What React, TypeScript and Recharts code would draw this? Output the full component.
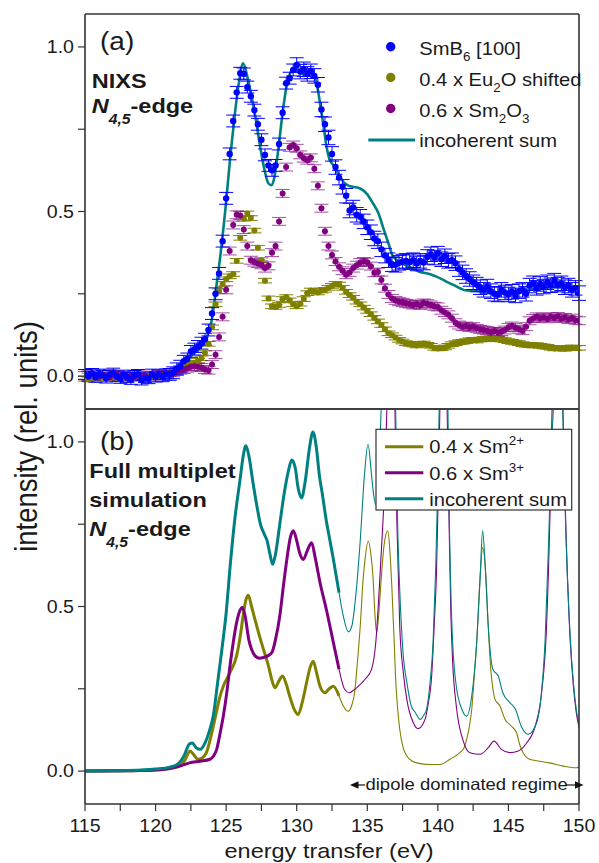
import React from 'react';
import { ComposedChart, Line, Scatter, XAxis, YAxis, ErrorBar } from 'recharts';

const FONT = '"Liberation Sans", Arial, Helvetica, sans-serif';
const C_BLUE = '#0000ff';
const C_OLIVE = '#808000';
const C_PURPLE = '#800080';
const C_TEAL = '#008080';
const AXIS = '#333333';
const TXT = '#1a1a1a';
const SX = 1.12;

const X_TICKS = [115, 117.5, 120, 122.5, 125, 127.5, 130, 132.5, 135, 137.5, 140, 142.5, 145, 147.5, 150];
const X_LABELS = [115, 120, 125, 130, 135, 140, 145, 150];
const Y_TICKS = [0, 0.25, 0.5, 0.75, 1];
const Y_LABELS = [0, 0.5, 1];

// ---------- (a) NIXS measurement ----------
const TOP_ENERGY = [
  115, 115.25, 115.5, 115.75, 116, 116.25, 116.5, 116.75, 117, 117.25, 117.5, 117.75,
  118, 118.25, 118.5, 118.75, 119, 119.25, 119.5, 119.75, 120, 120.25, 120.5, 120.75,
  121, 121.25, 121.5, 121.75, 122, 122.25, 122.5, 122.75, 123, 123.25, 123.5, 123.75,
  124, 124.25, 124.5, 124.75, 125, 125.25, 125.5, 125.75, 126, 126.25, 126.5, 126.75,
  127, 127.25, 127.5, 127.75, 128, 128.25, 128.5, 128.75, 129, 129.25, 129.5, 129.75,
  130, 130.25, 130.5, 130.75, 131, 131.25, 131.5, 131.75, 132, 132.25, 132.5, 132.75,
  133, 133.25, 133.5, 133.75, 134, 134.25, 134.5, 134.75, 135, 135.25, 135.5, 135.75,
  136, 136.25, 136.5, 136.75, 137, 137.25, 137.5, 137.75, 138, 138.25, 138.5, 138.75,
  139, 139.25, 139.5, 139.75, 140, 140.25, 140.5, 140.75, 141, 141.25, 141.5, 141.75,
  142, 142.25, 142.5, 142.75, 143, 143.25, 143.5, 143.75, 144, 144.25, 144.5, 144.75,
  145, 145.25, 145.5, 145.75, 146, 146.25, 146.5, 146.75, 147, 147.25, 147.5, 147.75,
  148, 148.25, 148.5, 148.75, 149, 149.25, 149.5, 149.75, 150,
];

const SMB6 = [
  0.005, 0.0, 0.008, -0.004, 0.006, 0.002, -0.006, 0.004, 0.009, -0.002, -0.007, 0.003,
  -0.004, -0.01, 0.002, 0.005, -0.012, -0.005, -0.008, 0.006, -0.003, 0.004, -0.002, 0.007,
  0.005, 0.01, 0.022, 0.03, 0.045, 0.052, 0.075, 0.082, 0.09, 0.1, 0.112, 0.14,
  0.19, 0.25, 0.312, 0.41, 0.54, 0.675, 0.775, 0.862, 0.92, 0.918, 0.878, 0.85,
  0.808, 0.765, 0.718, 0.672, 0.64, 0.625, 0.64, 0.705, 0.8, 0.89, 0.905, 0.93,
  0.945, 0.925, 0.932, 0.918, 0.926, 0.912, 0.885, 0.81, 0.765, 0.725, 0.675, 0.635,
  0.603, 0.575, 0.548, 0.503, 0.512, 0.49, 0.484, 0.47, 0.452, 0.437, 0.418, 0.41,
  0.385, 0.366, 0.352, 0.34, 0.338, 0.344, 0.348, 0.35, 0.346, 0.352, 0.342, 0.35,
  0.345, 0.362, 0.37, 0.36, 0.372, 0.355, 0.364, 0.35, 0.352, 0.343, 0.325, 0.315,
  0.304, 0.295, 0.285, 0.278, 0.27, 0.262, 0.272, 0.258, 0.25, 0.248, 0.262, 0.254,
  0.248, 0.256, 0.245, 0.258, 0.262, 0.25, 0.275, 0.282, 0.268, 0.28, 0.272, 0.285,
  0.276, 0.29, 0.278, 0.282, 0.27, 0.275, 0.262, 0.268, 0.252,
];

const EU2O = [
  -0.008, -0.01, -0.006, -0.009, -0.004, -0.007, -0.005, -0.008, -0.003, -0.006, -0.002, -0.004,
  -0.005, -0.002, -0.004, 0.0, -0.003, -0.001, 0.001, -0.002, 0.002, 0.0, 0.003, 0.004,
  0.006, 0.01, 0.016, 0.024, 0.03, 0.034, 0.036, 0.04, 0.046, 0.054, 0.07, 0.098,
  0.148, 0.218, 0.258, 0.28, 0.294, 0.303, 0.31, 0.35, 0.42, 0.478, 0.494, 0.48,
  0.442, 0.39, 0.352, 0.29, 0.236, 0.212, 0.21, 0.216, 0.234, 0.24, 0.23, 0.218,
  0.212, 0.22, 0.234, 0.252, 0.26, 0.258, 0.254, 0.26, 0.262, 0.268, 0.274, 0.28,
  0.278, 0.268, 0.256, 0.246, 0.238, 0.226, 0.218, 0.208, 0.198, 0.188, 0.177, 0.166,
  0.155, 0.142, 0.13, 0.124, 0.117, 0.11, 0.105, 0.1, 0.098, 0.096, 0.093, 0.097,
  0.099, 0.095, 0.092, 0.086, 0.084, 0.085, 0.087, 0.092, 0.097, 0.1, 0.103, 0.104,
  0.106, 0.109, 0.11, 0.108, 0.111, 0.113, 0.114, 0.112, 0.115, 0.113, 0.111, 0.109,
  0.106, 0.104, 0.102, 0.1, 0.097, 0.095, 0.094, 0.093, 0.094, 0.092, 0.09, 0.089,
  0.086, 0.084, 0.085, 0.084, 0.083, 0.086, 0.087, 0.085, 0.086,
];

const SM2O3 = [
  0.002, -0.003, 0.006, 0.001, -0.002, 0.004, 0.0, -0.004, 0.003, 0.005, -0.002, 0.002,
  -0.006, 0.001, -0.003, 0.004, -0.002, 0.002, -0.004, 0.003, 0.0, 0.005, 0.002, 0.006,
  0.004, 0.01, 0.014, 0.018, 0.02, 0.024, 0.028, 0.03, 0.028, 0.026, 0.02, 0.018,
  0.035, 0.065, 0.119, 0.18, 0.262, 0.38, 0.459, 0.49, 0.488, 0.445, 0.395, 0.352,
  0.346, 0.342, 0.338, 0.328, 0.335, 0.375, 0.395, 0.47, 0.555, 0.635, 0.695, 0.702,
  0.692, 0.672, 0.662, 0.656, 0.663, 0.63, 0.578, 0.51, 0.44, 0.395, 0.368, 0.348,
  0.332, 0.32, 0.308, 0.315, 0.328, 0.337, 0.345, 0.348, 0.346, 0.334, 0.314, 0.316,
  0.292, 0.267, 0.248, 0.236, 0.23, 0.226, 0.224, 0.221, 0.219, 0.216, 0.218, 0.215,
  0.222, 0.22, 0.216, 0.212, 0.21, 0.2, 0.193, 0.186, 0.176, 0.162, 0.155, 0.15,
  0.152, 0.148, 0.15, 0.145, 0.142, 0.14, 0.138, 0.134, 0.136, 0.133, 0.135, 0.14,
  0.148, 0.152, 0.147, 0.142, 0.138, 0.15, 0.168, 0.175, 0.18, 0.176, 0.179, 0.174,
  0.18, 0.177, 0.181, 0.175, 0.178, 0.172, 0.176, 0.17, 0.168,
];

// error bar half-heights: [upper energy bound, error]
const SMB6_ERR = [[121, 0.015], [130, 0.018], [151, 0.022]];
const EU2O_ERR = [[151, 0.007]];
const SM2O3_ERR = [[151, 0.012]];

const TOP_SUM: [number, number][] = [
  [115, 0], [118, 0], [120, 0.002], [121, 0.008], [121.5, 0.018], [122, 0.035], [122.5, 0.06],
  [123, 0.08], [123.5, 0.105], [123.8, 0.14], [124, 0.175], [124.3, 0.27], [124.6, 0.37],
  [125, 0.53], [125.3, 0.67], [125.6, 0.79], [125.9, 0.89], [126.2, 0.95], [126.5, 0.91],
  [126.8, 0.85], [127.1, 0.78], [127.4, 0.7], [127.7, 0.63], [128, 0.585], [128.2, 0.58],
  [128.4, 0.6], [128.7, 0.69], [129, 0.8], [129.3, 0.885], [129.7, 0.93], [130, 0.935],
  [130.5, 0.915], [131, 0.92], [131.3, 0.905], [131.5, 0.87], [131.7, 0.815], [131.9, 0.76],
  [132.1, 0.7], [132.3, 0.662], [132.6, 0.64], [133, 0.61], [133.4, 0.586], [133.7, 0.578],
  [134, 0.575], [134.5, 0.57], [135, 0.552], [135.4, 0.525], [135.8, 0.494], [136.1, 0.454],
  [136.5, 0.403], [136.8, 0.365], [137.3, 0.347], [138, 0.332], [138.7, 0.317], [139.4, 0.31],
  [139.9, 0.302], [140.2, 0.296], [140.6, 0.287], [141.1, 0.277], [141.6, 0.266], [142, 0.26],
  [142.5, 0.26], [143, 0.257], [144, 0.255], [145, 0.252], [146, 0.26], [147, 0.265],
  [148, 0.27], [149, 0.27], [150, 0.27],
];

// ---------- (b) multiplet simulation ----------
const SIM_SM2: [number, number][] = [
  [115, 0], [118, 0.001], [120, 0.003], [121, 0.008], [121.7, 0.015], [122.1, 0.035], [122.44, 0.061],
  [122.7, 0.05], [123, 0.036], [123.3, 0.04], [123.6, 0.056], [123.95, 0.11], [124.3, 0.177],
  [124.55, 0.225], [124.8, 0.258], [125.27, 0.299], [125.74, 0.35], [126, 0.41], [126.2, 0.471],
  [126.4, 0.52], [126.57, 0.534], [126.8, 0.5], [127.04, 0.461], [127.5, 0.39], [128, 0.319],
  [128.25, 0.275], [128.46, 0.253], [128.75, 0.275], [129, 0.289], [129.25, 0.265], [129.5, 0.228],
  [129.8, 0.19], [130.1, 0.172], [130.4, 0.21], [130.7, 0.269], [130.95, 0.315], [131.17, 0.334],
  [131.4, 0.3], [131.65, 0.258], [132, 0.238], [132.3, 0.25], [132.6, 0.258], [133, 0.228],
  [133.3, 0.198], [133.65, 0.182], [133.9, 0.2], [134.1, 0.238], [134.3, 0.33], [134.5, 0.44],
  [134.7, 0.58], [134.84, 0.643], [135.07, 0.699], [135.25, 0.66], [135.4, 0.593], [135.55, 0.47],
  [135.66, 0.42], [135.8, 0.47], [136, 0.593], [136.2, 0.69], [136.45, 0.73], [136.6, 0.67],
  [136.75, 0.55], [136.9, 0.4], [137, 0.289], [137.15, 0.19], [137.3, 0.127], [137.55, 0.07],
  [137.8, 0.046], [138.2, 0.03], [138.5, 0.025], [139.44, 0.02], [140.15, 0.02], [140.86, 0.036],
  [141.56, 0.056], [141.85, 0.07], [142.04, 0.096], [142.25, 0.14], [142.4, 0.188], [142.6, 0.3],
  [142.75, 0.39], [143, 0.593], [143.17, 0.679], [143.4, 0.593], [143.55, 0.46], [143.7, 0.34],
  [143.9, 0.25], [144.05, 0.218], [144.4, 0.198], [144.76, 0.157], [145.2, 0.137], [145.57, 0.117],
  [145.8, 0.08], [146.04, 0.056], [146.5, 0.036], [147.2, 0.03], [147.9, 0.025], [148.9, 0.015],
  [149.8, 0.01], [150, 0.012],
];

const SIM_SM3: [number, number][] = [
  [115, 0], [118, 0.001], [120, 0.003], [121, 0.008], [121.7, 0.015], [122.4, 0.025], [123.15, 0.03],
  [123.86, 0.036], [124.1, 0.045], [124.33, 0.066], [124.55, 0.11], [124.8, 0.167], [125.05, 0.24],
  [125.27, 0.319], [125.5, 0.39], [125.74, 0.451], [125.95, 0.485], [126.15, 0.497], [126.35, 0.47],
  [126.6, 0.4], [126.8, 0.37], [127.05, 0.35], [127.35, 0.343], [127.64, 0.345], [127.95, 0.35],
  [128.24, 0.36], [128.5, 0.4], [128.8, 0.471], [129.05, 0.56], [129.3, 0.643], [129.55, 0.71],
  [129.76, 0.73], [130, 0.7], [130.2, 0.664], [130.47, 0.643], [130.75, 0.67], [131.06, 0.694],
  [131.3, 0.65], [131.65, 0.573], [132.1, 0.491], [132.6, 0.39], [133, 0.309], [133.4, 0.248],
  [133.73, 0.238], [134, 0.245], [134.24, 0.253], [134.84, 0.279], [135.3, 0.309], [135.6, 0.39],
  [135.9, 0.593], [136.1, 0.75], [136.26, 0.9], [136.4, 1.12], [136.6, 1.6], [136.8, 1.4],
  [136.95, 1.12], [137.1, 0.75], [137.3, 0.44], [137.55, 0.3], [137.8, 0.218], [138.26, 0.147],
  [138.6, 0.129], [139.09, 0.157], [139.3, 0.2], [139.56, 0.289], [139.75, 0.45], [139.9, 0.6],
  [140.05, 0.88], [140.15, 1.12], [140.4, 1.8], [140.65, 1.12], [140.8, 0.74], [140.92, 0.48],
  [141.05, 0.33], [141.3, 0.2], [141.8, 0.091], [142.27, 0.056], [143, 0.051], [143.57, 0.071],
  [143.98, 0.091], [144.5, 0.066], [145.1, 0.056], [145.7, 0.061], [146.3, 0.086], [146.9, 0.137],
  [147.35, 0.238], [147.7, 0.44], [147.95, 0.795], [148.1, 1.12], [148.5, 1.8], [148.85, 1.12],
  [149, 0.85], [149.36, 0.41], [149.6, 0.26], [149.8, 0.18], [150, 0.133],
];

const SIM_SUM: [number, number][] = [
  [115, 0], [117, 0.001], [119, 0.003], [120, 0.006], [121, 0.012], [121.6, 0.022], [122, 0.045],
  [122.4, 0.082], [122.6, 0.085], [122.9, 0.07], [123.15, 0.066], [123.5, 0.085], [123.8, 0.12],
  [124.1, 0.17], [124.4, 0.27], [124.7, 0.37], [125, 0.48], [125.3, 0.63], [125.6, 0.76],
  [126, 0.89], [126.2, 0.955], [126.4, 0.988], [126.6, 0.96], [126.9, 0.877], [127.2, 0.8],
  [127.4, 0.755], [127.7, 0.72], [127.9, 0.7], [128.1, 0.66], [128.3, 0.628], [128.5, 0.66],
  [128.8, 0.75], [129.1, 0.84], [129.4, 0.91], [129.65, 0.945], [129.9, 0.92], [130.1, 0.86],
  [130.35, 0.83], [130.6, 0.88], [130.9, 0.98], [131.15, 1.03], [131.4, 0.98], [131.6, 0.9],
  [131.8, 0.846], [132.1, 0.76], [132.4, 0.69], [132.6, 0.643], [133, 0.542], [133.3, 0.471],
  [133.65, 0.423], [133.9, 0.44], [134.2, 0.54], [134.5, 0.7], [134.8, 0.9], [135.05, 0.993],
  [135.3, 0.9], [135.45, 0.84], [135.6, 0.81], [135.8, 0.9], [136, 1.12], [136.3, 1.5],
  [136.55, 1.7], [136.8, 1.4], [137, 1.12], [137.15, 0.75], [137.3, 0.55], [137.55, 0.35],
  [137.8, 0.27], [138.1, 0.2], [138.4, 0.178], [138.75, 0.157], [139, 0.17], [139.2, 0.188],
  [139.45, 0.27], [139.66, 0.39], [139.85, 0.62], [140, 0.88], [140.1, 1.12], [140.4, 1.8],
  [140.7, 1.15], [140.8, 0.8], [140.95, 0.5], [141.1, 0.35], [141.3, 0.26], [141.7, 0.188],
  [142.04, 0.167], [142.4, 0.228], [142.75, 0.39], [143, 0.593], [143.17, 0.73], [143.33, 0.643],
  [143.57, 0.44], [143.9, 0.309], [144.28, 0.289], [144.6, 0.238], [145.1, 0.208], [145.5, 0.188],
  [145.9, 0.137], [146.4, 0.112], [147, 0.147], [147.3, 0.22], [147.6, 0.4], [147.85, 0.7],
  [148.06, 1.0], [148.2, 1.12], [148.5, 1.8], [148.8, 1.2], [148.9, 1.0], [149.05, 0.75],
  [149.36, 0.42], [149.6, 0.27], [149.8, 0.19], [150, 0.137],
];

// quadrupole/dipole crossover used to split thick and thin line segments
const SPLIT_ENERGY = 133;

const errFor = (bands: number[][], x: number) => {
  for (const [ub, e] of bands) if (x < ub) return e;
  return bands[bands.length - 1][1];
};
const scatterRows = (ys: number[], bands: number[][]) =>
  TOP_ENERGY.map((x, i) => ({ x, y: ys[i], e: errFor(bands, x) }));
const pairRows = (pairs: [number, number][]) => pairs.map(([x, y]) => ({ x, y }));
const thick = (pairs: [number, number][]) => pairRows(pairs.filter(([x]) => x <= SPLIT_ENERGY));
const thin = (pairs: [number, number][]) => pairRows(pairs.filter(([x]) => x >= SPLIT_ENERGY));

const blueRows = scatterRows(SMB6, SMB6_ERR);
const oliveRows = scatterRows(EU2O, EU2O_ERR);
const purpleRows = scatterRows(SM2O3, SM2O3_ERR);

const XTick = (p: any) => {
  const v = p.payload.value;
  if (!X_LABELS.includes(v)) return <g />;
  return (
    <text transform={`translate(${p.x},${p.y + 20.7}) scale(${SX},1)`} textAnchor="middle"
      fontSize={17.5} fill={TXT} fontFamily={FONT}>{String(v)}</text>
  );
};
const YTick = (p: any) => {
  const v = p.payload.value;
  if (!Y_LABELS.includes(v)) return <g />;
  return (
    <text transform={`translate(${p.x - 4},${p.y + 6.2}) scale(${SX},1)`} textAnchor="end"
      fontSize={17.5} fill={TXT} fontFamily={FONT}>{v.toFixed(1)}</text>
  );
};

const axisLine = { stroke: AXIS, strokeWidth: 1.6 };
const tickLine = { stroke: AXIS, strokeWidth: 1.2 };

const dot = (color: string, r: number) => (p: any) =>
  p.cx == null ? <g /> : <circle cx={p.cx} cy={p.cy} r={r} fill={color} />;

function Axes({ bottomLabels }: { bottomLabels: boolean }) {
  return null;
}

function T({ x, y, size, bold, children, anchor = 'start' }: any) {
  return (
    <text transform={`translate(${x},${y}) scale(${SX},1)`} fontSize={size} fontWeight={bold ? 'bold' : 'normal'}
      textAnchor={anchor} fill={TXT} fontFamily={FONT}>{children}</text>
  );
}

export default function App() {
  const yDomain: [number, number] = [-0.1, 1.1];
  const xDomain: [number, number] = [115, 150];
  return (
    <div style={{ position: 'absolute', left: 0, top: 0, width: 599, height: 863, background: '#fff', overflow: 'hidden' }}>
      <div style={{ position: 'absolute', left: 0, top: 0 }}>
        <ComposedChart width={599} height={420} margin={{ top: 14, right: 20, bottom: 1, left: 0 }}>
          <XAxis xAxisId={0} dataKey="x" type="number" domain={xDomain} ticks={X_TICKS} allowDataOverflow
            height={10} tick={false} tickLine={false} axisLine={axisLine} />
          <XAxis xAxisId="t" type="number" orientation="top" mirror domain={xDomain} ticks={X_TICKS} allowDataOverflow
            tick={false} tickSize={7} tickLine={tickLine} axisLine={axisLine} />
          <YAxis yAxisId={0} dataKey="y" type="number" domain={yDomain} ticks={Y_TICKS} allowDataOverflow
            width={85} tickSize={7} tickMargin={0} tick={YTick} tickLine={tickLine} axisLine={axisLine} />
          <YAxis yAxisId="r" type="number" orientation="right" mirror domain={yDomain} ticks={Y_TICKS} allowDataOverflow
            tick={false} tickSize={7} tickLine={tickLine} axisLine={axisLine} />
          <Scatter data={oliveRows} dataKey="y" fill={C_OLIVE} shape={dot(C_OLIVE, 3)} isAnimationActive={false}>
            <ErrorBar dataKey="e" direction="y" width={7} stroke={C_OLIVE} strokeWidth={1} />
          </Scatter>
          <Scatter data={purpleRows} dataKey="y" fill={C_PURPLE} shape={dot(C_PURPLE, 3)} isAnimationActive={false}>
            <ErrorBar dataKey="e" direction="y" width={7} stroke={C_PURPLE} strokeOpacity={0.7} strokeWidth={1} />
          </Scatter>
          <Line data={pairRows(TOP_SUM)} dataKey="y" type="monotone" stroke={C_TEAL} strokeWidth={2.6}
            dot={false} activeDot={false} isAnimationActive={false} />
          <Scatter data={blueRows} dataKey="y" fill={C_BLUE} shape={dot(C_BLUE, 3.2)} isAnimationActive={false}>
            <ErrorBar dataKey="e" direction="y" width={7} stroke={C_BLUE} strokeWidth={1} />
          </Scatter>
        </ComposedChart>
      </div>
      <div style={{ position: 'absolute', left: 0, top: 400 }}>
        <ComposedChart width={599} height={463} margin={{ top: 9, right: 20, bottom: 29, left: 0 }}>
          <XAxis xAxisId={0} dataKey="x" type="number" domain={xDomain} ticks={X_TICKS} allowDataOverflow
            height={30} tickSize={7} tickMargin={0} tick={XTick} tickLine={tickLine} axisLine={axisLine} />
          <XAxis xAxisId="t" type="number" orientation="top" mirror domain={xDomain} ticks={X_TICKS} allowDataOverflow
            tick={false} tickSize={7} tickLine={tickLine} axisLine={axisLine} />
          <YAxis yAxisId={0} dataKey="y" type="number" domain={yDomain} ticks={Y_TICKS} allowDataOverflow
            width={85} tickSize={7} tickMargin={0} tick={YTick} tickLine={tickLine} axisLine={axisLine} />
          <YAxis yAxisId="r" type="number" orientation="right" mirror domain={yDomain} ticks={Y_TICKS} allowDataOverflow
            tick={false} tickSize={7} tickLine={tickLine} axisLine={axisLine} />
          <Line data={thin(SIM_SM2)} dataKey="y" type="monotone" stroke={C_OLIVE} strokeWidth={1.1} dot={false} activeDot={false} isAnimationActive={false} />
          <Line data={thin(SIM_SM3)} dataKey="y" type="monotone" stroke={C_PURPLE} strokeWidth={1.1} dot={false} activeDot={false} isAnimationActive={false} />
          <Line data={thin(SIM_SUM)} dataKey="y" type="monotone" stroke={C_TEAL} strokeWidth={1.1} dot={false} activeDot={false} isAnimationActive={false} />
          <Line data={thick(SIM_SM2)} dataKey="y" type="monotone" stroke={C_OLIVE} strokeWidth={3} dot={false} activeDot={false} isAnimationActive={false} />
          <Line data={thick(SIM_SM3)} dataKey="y" type="monotone" stroke={C_PURPLE} strokeWidth={3} dot={false} activeDot={false} isAnimationActive={false} />
          <Line data={thick(SIM_SUM)} dataKey="y" type="monotone" stroke={C_TEAL} strokeWidth={3} dot={false} activeDot={false} isAnimationActive={false} />
        </ComposedChart>
      </div>
      <svg width={599} height={863} style={{ position: 'absolute', left: 0, top: 0, pointerEvents: 'none' }}>
        {/* axis title */}
        <text transform={`translate(37.3,436.5) rotate(-90) scale(1,${SX})`} textAnchor="middle" fontSize={27.5}
          fill={TXT} fontFamily={FONT}>intensity (rel. units)</text>
        <T x={329} y={857.5} size={21} anchor="middle">energy transfer (eV)</T>

        {/* panel (a) */}
        <T x={100} y={49.5} size={25}>(a)</T>
        <T x={91.7} y={88.3} size={21} bold>NIXS</T>
        <T x={91.7} y={113.3} size={21} bold>
          <tspan fontStyle="italic">N</tspan>
          <tspan fontStyle="italic" fontSize={14} dy={11}>4,5</tspan>
          <tspan dy={-11}>-edge</tspan>
        </T>
        <circle cx={390.7} cy={46.7} r={4.7} fill={C_BLUE} />
        <circle cx={390.7} cy={77.5} r={4.7} fill={C_OLIVE} />
        <circle cx={390.7} cy={108.5} r={4.7} fill={C_PURPLE} />
        <line x1={368.3} x2={415} y1={140} y2={140} stroke={C_TEAL} strokeWidth={3} />
        <T x={419.3} y={55} size={18}>SmB<tspan fontSize={12} dy={6}>6</tspan><tspan dy={-6}> [100]</tspan></T>
        <T x={419.3} y={86} size={18}>0.4 x Eu<tspan fontSize={12} dy={6}>2</tspan><tspan dy={-6}>O shifted</tspan></T>
        <T x={419.3} y={116.7} size={18}>0.6 x Sm<tspan fontSize={12} dy={6}>2</tspan><tspan dy={-6}>O</tspan><tspan fontSize={12} dy={6}>3</tspan></T>
        <T x={419.3} y={146.7} size={18}>incoherent sum</T>

        {/* panel (b) */}
        <T x={100} y={449.5} size={25}>(b)</T>
        <T x={89.3} y={477.8} size={21} bold>Full multiplet</T>
        <T x={89.3} y={506.7} size={21} bold>simulation</T>
        <T x={89.3} y={536} size={21} bold>
          <tspan fontStyle="italic">N</tspan>
          <tspan fontStyle="italic" fontSize={14} dy={11}>4,5</tspan>
          <tspan dy={-11}>-edge</tspan>
        </T>
        <rect x={376} y={429.3} width={195.7} height={80.7} fill="#fff" stroke={AXIS} strokeWidth={1.2} />
        <line x1={385} x2={423.3} y1={446.7} y2={446.7} stroke={C_OLIVE} strokeWidth={3} />
        <line x1={385} x2={423.3} y1={472.7} y2={472.7} stroke={C_PURPLE} strokeWidth={3} />
        <line x1={385} x2={423.3} y1={498.7} y2={498.7} stroke={C_TEAL} strokeWidth={3} />
        <T x={429.3} y={453.3} size={18}>0.4 x Sm<tspan fontSize={12} dy={-8}>2+</tspan></T>
        <T x={429.3} y={480} size={18}>0.6 x Sm<tspan fontSize={12} dy={-8}>3+</tspan></T>
        <T x={429.3} y={506} size={18}>incoherent sum</T>

        {/* dipole regime arrow */}
        <line x1={356} x2={365} y1={785} y2={785} stroke="#111" strokeWidth={1.2} />
        <polygon points="350,785 358.5,781.2 358.5,788.8" fill="#111" />
        <line x1={566} x2={576} y1={785} y2={785} stroke="#111" strokeWidth={1.2} />
        <polygon points="583.5,785 575,781.2 575,788.8" fill="#111" />
        <T x={365.5} y={789.5} size={16.5}>dipole dominated regime</T>
      </svg>
    </div>
  );
}
